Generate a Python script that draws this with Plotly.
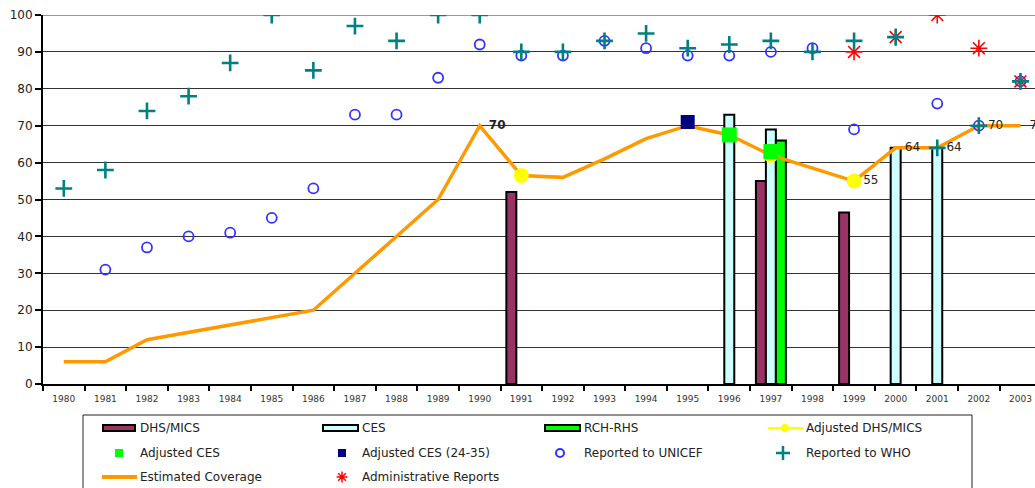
import plotly.graph_objects as go

# ---- data -------------------------------------------------------------
years = ["1980", "1981", "1982", "1983", "1984", "1985", "1986", "1987",
         "1988", "1989", "1990", "1991", "1992", "1993", "1994", "1995",
         "1996", "1997", "1998", "1999", "2000", "2001", "2002", "2003"]

estimated_coverage = [6, 6, 12, 14, 16, 18, 20, 30, 40, 50, 70, 56.5,
                      56, 61, 66.5, 70, 67.5, 62, 58.5, 55, 64, 64, 70, 70]

dhs_years = ["1991", "1997", "1999"]
dhs_values = [52, 55, 46.5]

ces_years = ["1996", "1997", "2000", "2001"]
ces_values = [73, 69, 64, 64]

rch_years = ["1997"]
rch_values = [66]

adj_dhs_years = ["1991", "1997", "1999"]
adj_dhs_values = [56.5, 62, 55]

adj_ces_years = ["1996", "1997"]
adj_ces_values = [67.5, 63]

adj_ces2435_years = ["1995"]
adj_ces2435_values = [71]

unicef_years = ["1981", "1982", "1983", "1984", "1985", "1986", "1987",
                "1988", "1989", "1990", "1991", "1992", "1993", "1994",
                "1995", "1996", "1997", "1998", "1999", "2001", "2002", "2003"]
unicef_values = [31, 37, 40, 41, 45, 53, 73, 73, 83, 92, 89, 89, 93, 91,
                 89, 89, 90, 91, 69, 76, 70, 82]

who_years = years
who_values = [53, 58, 74, 78, 87, 100, 85, 97, 93, 100, 100, 90, 90, 93,
              95, 91, 92, 93, 90, 93, 94, 64, 70, 82]

admin_years = ["1999", "2000", "2001", "2002", "2003"]
admin_values = [90, 94, 100, 91, 82]

label_years = ["1990", "1999", "2000", "2001", "2002", "2003"]

# ---- colours ----------------------------------------------------------
C_DHS = "#993366"
C_CES = "#CCFFFF"
C_RCH = "#00FF00"
C_ORANGE = "#FF9900"
C_YELLOW = "#FFFF00"
C_GREEN = "#00FF00"
C_NAVY = "#000080"
C_BLUE = "#3333FF"
C_TEAL = "#008080"
C_RED = "#FF0000"
FONT = "DejaVu Sans"

W, H = 1035, 488
ML, MT = 43, 15
AXIS_BOTTOM_PX = 384           # pixel row of the x axis
plot_h = H - MT
y_dom0 = (H - AXIS_BOTTOM_PX) / plot_h

fig = go.Figure()

bar_line = dict(color="black", width=2)
fig.add_trace(go.Bar(x=dhs_years, y=dhs_values, name="DHS/MICS",
                     marker=dict(color=C_DHS, line=bar_line)))
fig.add_trace(go.Bar(x=ces_years, y=ces_values, name="CES",
                     marker=dict(color=C_CES, line=bar_line)))
fig.add_trace(go.Bar(x=rch_years, y=rch_values, name="RCH-RHS",
                     marker=dict(color=C_RCH, line=bar_line)))

fig.add_trace(go.Scatter(x=years, y=estimated_coverage, mode="lines",
                         name="Estimated Coverage",
                         line=dict(color=C_ORANGE, width=3.5)))

# value labels on the estimated coverage line (transparent markers keep
# the text clear of the line vertices)
cov = dict(zip(years, estimated_coverage))
label_vals = [cov[y] for y in label_years]
label_text = [(f"<b>{v:g}</b>" if y == "1990" else f"{v:g}")
              for y, v in zip(label_years, label_vals)]
fig.add_trace(go.Scatter(x=label_years, y=label_vals, mode="markers+text",
                         text=label_text, textposition="middle right",
                         marker=dict(size=13, color="rgba(0,0,0,0)"),
                         textfont=dict(family=FONT, size=12, color="#222222"),
                         cliponaxis=False, showlegend=False, hoverinfo="skip"))

fig.add_trace(go.Scatter(x=adj_dhs_years, y=adj_dhs_values, mode="markers",
                         name="Adjusted DHS/MICS",
                         marker=dict(color=C_YELLOW, size=15, symbol="circle",
                                     line=dict(width=0))))
fig.add_trace(go.Scatter(x=adj_ces_years, y=adj_ces_values, mode="markers",
                         name="Adjusted CES",
                         marker=dict(color=C_GREEN, size=15, symbol="square",
                                     line=dict(width=0))))
fig.add_trace(go.Scatter(x=adj_ces2435_years, y=adj_ces2435_values,
                         mode="markers", name="Adjusted CES (24-35)",
                         marker=dict(color=C_NAVY, size=14, symbol="square",
                                     line=dict(width=0))))
fig.add_trace(go.Scatter(x=unicef_years, y=unicef_values, mode="markers",
                         name="Reported to UNICEF",
                         marker=dict(symbol="circle-open", size=10,
                                     color=C_BLUE,
                                     line=dict(width=1.8, color=C_BLUE))))
fig.add_trace(go.Scatter(x=admin_years, y=admin_values, mode="markers",
                         name="Administrative Reports",
                         marker=dict(symbol="asterisk-open", size=14,
                                     color=C_RED,
                                     line=dict(width=1.6, color=C_RED))))
fig.add_trace(go.Scatter(x=who_years, y=who_values, mode="markers",
                         name="Reported to WHO",
                         marker=dict(symbol="cross-thin-open", size=12,
                                     color=C_TEAL,
                                     line=dict(width=2.6, color=C_TEAL))))

# ---- legend panel (drawn on a pixel-scaled overlay axis) ---------------
LX = "x2"
LY = "y2"
row_y = [428, 453, 477]
col_text_x = [138, 360, 582, 804]

shapes = []
annotations = []

# frame
shapes.append(dict(type="rect", xref=LX, yref=LY, x0=83, x1=972, y0=415,
                   y1=500, line=dict(color="#222222", width=1),
                   fillcolor="rgba(0,0,0,0)", layer="above"))

# bar swatches
for (x0, x1), col in zip([(103, 135), (323, 358), (545, 580)],
                         [C_DHS, C_CES, C_RCH]):
    shapes.append(dict(type="rect", xref=LX, yref=LY, x0=x0, x1=x1,
                       y0=row_y[0] - 3, y1=row_y[0] + 3, fillcolor=col,
                       line=dict(color="black", width=2), layer="above"))


def legend_marker(x, y, **marker):
    fig.add_trace(go.Scatter(x=[x], y=[y], xaxis=LX, yaxis=LY,
                             mode="markers", showlegend=False,
                             hoverinfo="skip", cliponaxis=False,
                             marker=marker))


def legend_line(x0, x1, y, color, width):
    fig.add_trace(go.Scatter(x=[x0, x1], y=[y, y], xaxis=LX, yaxis=LY,
                             mode="lines", showlegend=False,
                             hoverinfo="skip", cliponaxis=False,
                             line=dict(color=color, width=width)))


legend_line(768, 803, row_y[0], C_YELLOW, 2)
legend_marker(785, row_y[0], color=C_YELLOW, size=8)
legend_marker(119, row_y[1], color=C_GREEN, size=8, symbol="square")
legend_marker(342, row_y[1], color=C_NAVY, size=8, symbol="square")
legend_marker(560, row_y[1], symbol="circle-open", size=8, color=C_BLUE,
              line=dict(color=C_BLUE, width=2))
legend_marker(783, row_y[1], symbol="cross-thin-open", size=10, color=C_TEAL,
              line=dict(color=C_TEAL, width=2.5))
legend_line(102, 137, row_y[2], C_ORANGE, 4)
legend_marker(342, row_y[2], symbol="asterisk-open", size=9, color=C_RED,
              line=dict(color=C_RED, width=1.5))

legend_labels = [
    ["DHS/MICS", "CES", "RCH-RHS", "Adjusted DHS/MICS"],
    ["Adjusted CES", "Adjusted CES (24-35)", "Reported to UNICEF",
     "Reported to WHO"],
    ["Estimated Coverage", "Administrative Reports"],
]
for r, row in enumerate(legend_labels):
    for c, txt in enumerate(row):
        annotations.append(dict(xref=LX, yref=LY, x=col_text_x[c],
                                y=row_y[r], text=txt, showarrow=False,
                                xanchor="left", yanchor="middle",
                                font=dict(family=FONT, size=12,
                                          color="#222222")))

# top border of the plot area
shapes.append(dict(type="line", xref="paper", yref="y", x0=0, x1=1, y0=100,
                   y1=100, line=dict(color="#999999", width=2),
                   layer="between"))

fig.update_layout(
    width=W, height=H,
    margin=dict(l=ML, r=0, t=MT, b=0, pad=0, autoexpand=False),
    paper_bgcolor="white", plot_bgcolor="white",
    barmode="group", bargap=0.28, bargroupgap=0,
    showlegend=False,
    font=dict(family=FONT, color="#222222"),
    xaxis=dict(type="category", categoryorder="array", categoryarray=years,
               range=[-0.5, 23.35], tickson="boundaries", ticks="outside",
               ticklen=5, tickwidth=1.5, tickcolor="black",
               showline=True, linewidth=2, linecolor="black",
               showgrid=False, zeroline=False, ticklabelstandoff=5,
               tickfont=dict(family=FONT, size=9, color="#333333"),
               domain=[0, 1], anchor="y", automargin=False),
    yaxis=dict(range=[0, 100], dtick=10, tick0=0, showgrid=True,
               gridcolor="#333333", gridwidth=1, showline=True, linewidth=2,
               linecolor="black", ticks="outside", ticklen=6, tickwidth=1.5,
               tickcolor="black", zeroline=False, automargin=False,
               tickfont=dict(family=FONT, size=12, color="#222222"),
               domain=[y_dom0, 1], anchor="x"),
    xaxis2=dict(range=[ML, W], domain=[0, 1], anchor="y2", visible=False,
                fixedrange=True),
    yaxis2=dict(range=[H, AXIS_BOTTOM_PX], domain=[0, y_dom0], anchor="x2",
                visible=False, fixedrange=True),
    shapes=shapes,
    annotations=annotations,
)

fig.write_html("out.html")
